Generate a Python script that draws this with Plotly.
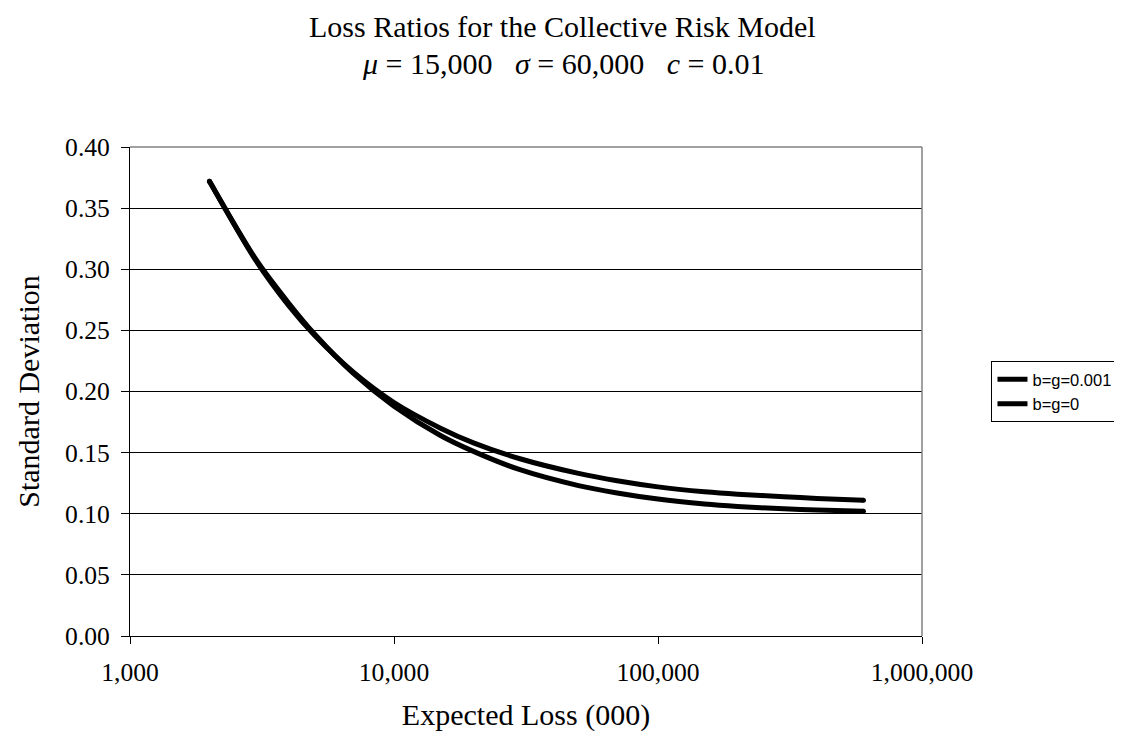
import plotly.graph_objects as go

# ---- data ----
expected_loss = [2000, 3000, 4000, 5000, 7000, 10000, 15000, 20000, 30000,
                 50000, 70000, 100000, 150000, 200000, 300000, 400000, 600000]
sd_bg_0001 = [0.372, 0.307, 0.270, 0.246, 0.216, 0.191, 0.170, 0.158, 0.145,
              0.133, 0.127, 0.122, 0.118, 0.116, 0.114, 0.1125, 0.111]
sd_bg_0 = [0.372, 0.308, 0.272, 0.247, 0.215, 0.188, 0.164, 0.151, 0.136,
           0.123, 0.117, 0.112, 0.108, 0.106, 0.104, 0.103, 0.102]
series_names = ["b=g=0.001", "b=g=0"]
x_tick_vals = [1000, 10000, 100000, 1000000]
x_tick_text = ["1,000", "10,000", "100,000", "1,000,000"]
y_tick_vals = [0.00, 0.05, 0.10, 0.15, 0.20, 0.25, 0.30, 0.35, 0.40]

SERIF = "Liberation Serif, Times New Roman, serif"
SANS = "Liberation Sans, Arial, sans-serif"
NB = "\u00a0"
LW = 5

# plot area in pixels (left, top, right, bottom)
PL, PT, PR, PB = 122, 139, 920, 628
PW, PH = PR - PL, PB - PT

fig = go.Figure()
for name, vals in zip(series_names, [sd_bg_0001, sd_bg_0]):
    fig.add_trace(go.Scatter(
        x=expected_loss, y=vals, mode="lines", name=name,
        line=dict(color="black", width=LW, shape="spline", smoothing=0.8),
    ))
# round line ends
for vals in [sd_bg_0001, sd_bg_0]:
    fig.add_trace(go.Scatter(
        x=[expected_loss[0], expected_loss[-1]], y=[vals[0], vals[-1]],
        mode="markers", showlegend=False, hoverinfo="skip",
        marker=dict(color="black", size=LW, line=dict(width=0)),
    ))

title_line1 = "Loss Ratios for the Collective Risk Model"
title_line2 = (f"<i>μ</i> = 15,000{NB}{NB}{NB}<i>σ</i> = 60,000"
               f"{NB}{NB}{NB}<i>c</i> = 0.01")


def px_x(px):
    return (px - PL) / PW


def px_y(py):
    return (PB - py) / PH


annotations = [
    dict(text=title_line1, xref="paper", yref="paper", x=px_x(558), y=px_y(18),
         xanchor="center", yanchor="middle", showarrow=False,
         font=dict(family=SERIF, size=30, color="black")),
    dict(text=title_line2, xref="paper", yref="paper", x=px_x(558), y=px_y(55),
         xanchor="center", yanchor="middle", showarrow=False,
         font=dict(family=SERIF, size=30, color="black")),
]

fig.update_layout(
    width=1122, height=736,
    margin=dict(l=PL, r=1122 - PR, t=PT, b=736 - PB),
    paper_bgcolor="white", plot_bgcolor="white",
    annotations=annotations,
    showlegend=True,
    legend=dict(x=px_x(990), xanchor="left", y=0.5, yanchor="middle",
                bordercolor="black", borderwidth=1, bgcolor="white",
                font=dict(family=SANS, size=16.5, color="black"),
                itemwidth=30, tracegroupgap=0),
    xaxis=dict(type="log", range=[3, 6], tickvals=x_tick_vals, ticktext=x_tick_text,
               showgrid=False, zeroline=False, showline=True, linecolor="black",
               linewidth=1, ticks="outside", ticklen=7, tickcolor="black",
               tickfont=dict(family=SERIF, size=25.6, color="black"),
               ticklabelstandoff=6,
               title=dict(text="Expected Loss (000)", standoff=18,
                          font=dict(family=SERIF, size=30, color="black"))),
    yaxis=dict(range=[0, 0.40], tickvals=y_tick_vals, tickformat=".2f",
               showgrid=True, gridcolor="black", gridwidth=1, zeroline=False,
               showline=True, linecolor="black", linewidth=1,
               ticks="outside", ticklen=8, tickcolor="black",
               tickfont=dict(family=SERIF, size=25.6, color="black"),
               ticklabelstandoff=6,
               title=dict(text="Standard Deviation", standoff=16,
                          font=dict(family=SERIF, size=30, color="black"))),
    shapes=[
        dict(type="line", xref="paper", yref="paper", x0=0, x1=1, y0=1, y1=1,
             line=dict(color="#808080", width=1.5), layer="above"),
        dict(type="line", xref="paper", yref="paper", x0=1, x1=1, y0=0, y1=1,
             line=dict(color="#808080", width=1.5), layer="above"),
    ],
)

fig.write_html("out.html")
